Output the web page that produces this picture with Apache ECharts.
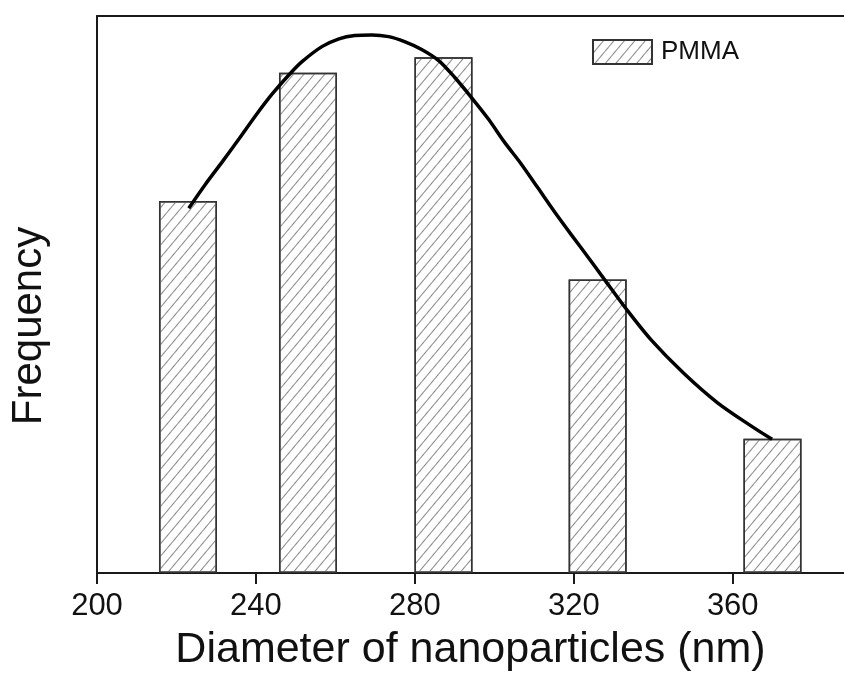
<!DOCTYPE html>
<html>
<head>
<meta charset="utf-8">
<script src="https://cdn.jsdelivr.net/npm/echarts@6/dist/echarts.min.js"></script>
<style>
html,body{margin:0;padding:0;background:#fff;}
#chart{width:844px;height:677px;}
</style>
</head>
<body>
<div id="chart"></div>
<script>
// Bar centers (nm) and relative frequencies (0-100 scale)
const barDiameters = [222.9, 253.1, 287.2, 326.0, 370.0];
const barFrequency = [66.8, 89.8, 92.6, 52.7, 24.1];
// Fitted curve
const curveX = [223.1, 227.3, 231.6, 235.8, 239.9, 244.1, 248.4, 251.6, 256.6, 260.9, 264.9, 269.2, 273.4, 277.4, 281.7, 286.0, 290.0, 294.2, 298.5, 302.5, 306.8, 311.0, 315.0, 319.3, 323.6, 327.6, 333.3, 339.4, 347.6, 356.1, 364.4, 369.9];
const curveY = [65.5, 69.8, 73.9, 78.0, 82.1, 86.0, 89.5, 91.8, 94.5, 95.9, 96.5, 96.6, 96.3, 95.4, 94.0, 92.0, 89.0, 85.4, 81.5, 77.4, 73.4, 69.1, 65.0, 60.8, 56.7, 52.8, 47.3, 41.9, 35.9, 30.6, 26.5, 24.0];
const xTicks = [200, 240, 280, 320, 360];
const seriesName = 'PMMA';

const chart = echarts.init(document.getElementById('chart'), null, {renderer: 'canvas'});
const FONT = 'Liberation Sans, Arial, sans-serif';
const axisLine = {show: true, lineStyle: {color: '#1a1a1a', width: 2}};

chart.setOption({
  animation: false,
  backgroundColor: '#fff',
  grid: {left: 94, right: 0, top: 16, bottom: 98, containLabel: false},
  legend: {
    left: 592, top: 39, padding: 0,
    icon: 'rect',
    itemWidth: 59, itemHeight: 24, itemGap: 0,
    data: [seriesName],
    textStyle: {fontFamily: FONT, fontSize: 26, color: '#111', padding: [0, 0, 0, 4]}
  },
  xAxis: [{
    type: 'value', min: 200, max: 388, interval: 40,
    name: 'Diameter of nanoparticles (nm)', nameLocation: 'middle', nameGap: 56,
    nameTextStyle: {fontFamily: FONT, fontSize: 43, color: '#111'},
    axisLine: axisLine,
    axisTick: {show: true, inside: false, length: 11, lineStyle: {color: '#1a1a1a', width: 2}, customValues: xTicks},
    axisLabel: {fontFamily: FONT, fontSize: 31, color: '#111', margin: 18, customValues: xTicks},
    splitLine: {show: false}
  }, {
    type: 'value', position: 'top', min: 200, max: 388,
    axisLine: axisLine, axisTick: {show: false}, axisLabel: {show: false}, splitLine: {show: false}
  }],
  yAxis: {
    type: 'value', min: 0, max: 100,
    name: 'Frequency', nameLocation: 'middle', nameGap: 47,
    nameTextStyle: {fontFamily: FONT, fontSize: 42, color: '#111', padding: [0, 63, 0, 0]},
    axisLine: axisLine, axisTick: {show: false}, axisLabel: {show: false}, splitLine: {show: false}
  },
  series: [{
    name: seriesName,
    type: 'bar',
    barWidth: 58,
    data: barDiameters.map((d, i) => [d, barFrequency[i]]),
    itemStyle: {
      color: '#ffffff', borderColor: '#333', borderWidth: 1.5,
      decal: {symbol: 'rect', symbolSize: 1, dashArrayX: [1, 0], dashArrayY: [1, 7], rotation: -Math.PI / 3.6, color: '#888'}
    }
  }, {
    name: 'fit',
    type: 'line',
    smooth: 0.3,
    showSymbol: false,
    data: curveX.map((x, i) => [x, curveY[i]]),
    lineStyle: {color: '#000', width: 3.5},
    z: 5
  }]
});
</script>
</body>
</html>
